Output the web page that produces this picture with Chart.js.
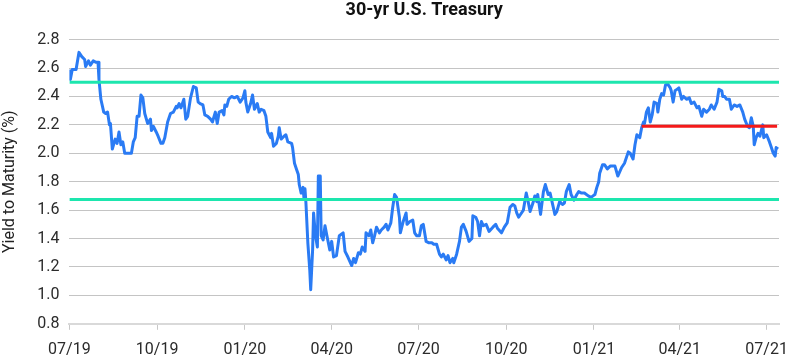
<!DOCTYPE html>
<html>
<head>
<meta charset="utf-8">
<script src="https://cdn.jsdelivr.net/npm/chart.js@4"></script>
<style>
  html, body { margin: 0; padding: 0; background: #fff; }
  #chartContainer { width: 792px; height: 360px; }
</style>
</head>
<body>
<div id="chartContainer"><canvas id="chart"></canvas></div>
<script>
// days counted from 07/01/2019
const dayOffsets = [
    0, 1, 3, 7, 10, 13, 16, 17, 20, 22, 25, 28, 30, 31, 33, 36, 38, 40, 42, 43,
    45, 48, 50, 52, 54, 56, 58, 61, 65, 67, 69, 71, 73, 75, 77, 79, 82, 85, 86, 88,
    91, 93, 96, 98, 100, 103, 106, 109, 112, 113, 115, 117, 120, 122, 124, 127, 130, 133, 135, 137,
    140, 142, 145, 148, 150, 153, 155, 157, 160, 162, 163, 165, 167, 170, 173, 176, 179, 182, 184, 185,
    187, 190, 192, 194, 197, 199, 201, 204, 206, 208, 211, 212, 214, 217, 219, 220, 222, 225, 227, 229,
    233, 234, 236, 238, 240, 241, 243, 245, 246, 247, 248, 250, 252, 253, 255, 256, 258, 260, 261, 263,
    264, 266, 268, 270, 273, 275, 277, 280, 283, 287, 289, 292, 296, 298, 300, 303, 305, 307, 310, 311,
    314, 316, 318, 320, 322, 325, 327, 330, 332, 334, 337, 339, 341, 343, 346, 347, 350, 353, 354, 357,
    360, 362, 364, 367, 369, 371, 374, 377, 380, 382, 385, 388, 390, 392, 395, 397, 399, 402, 403, 406,
    409, 411, 413, 416, 419, 422, 423, 426, 428, 430, 432, 434, 437, 440, 444, 447, 449, 453, 456, 459,
    462, 465, 467, 469, 471, 474, 476, 479, 481, 483, 486, 488, 490, 491, 494, 497, 499, 502, 504, 506,
    509, 511, 514, 517, 519, 521, 524, 526, 529, 532, 534, 537, 540, 544, 547, 549, 551, 553, 555, 556,
    559, 561, 564, 567, 568, 572, 575, 579, 582, 586, 588, 591, 593, 595, 598, 600, 602, 603, 605, 607,
    609, 611, 613, 616, 617, 619, 621, 623, 625, 627, 630, 631, 633, 635, 637, 639, 642, 644, 647, 650,
    652, 655, 658, 660, 663, 665, 668, 671, 673, 676, 679, 681, 684, 685, 687, 689, 692, 694, 697, 700,
    703, 706, 708, 711, 713, 715, 717, 718, 720, 722, 724, 727, 728, 731, 734, 736, 738, 740, 741, 743
];
const yields = [
    2.59, 2.52, 2.59, 2.59, 2.71, 2.68, 2.66, 2.61, 2.65, 2.62, 2.65, 2.64, 2.64, 2.52, 2.38, 2.29, 2.28, 2.29, 2.20, 2.21,
    2.03, 2.10, 2.07, 2.15, 2.06, 2.08, 2.00, 2.00, 2.00, 2.08, 2.11, 2.26, 2.26, 2.41, 2.39, 2.28, 2.21, 2.24, 2.16, 2.19,
    2.15, 2.12, 2.07, 2.07, 2.11, 2.22, 2.28, 2.29, 2.33, 2.32, 2.35, 2.32, 2.38, 2.24, 2.26, 2.39, 2.47, 2.46, 2.36, 2.35,
    2.34, 2.27, 2.26, 2.24, 2.22, 2.29, 2.21, 2.29, 2.30, 2.27, 2.34, 2.33, 2.38, 2.40, 2.39, 2.40, 2.36, 2.39, 2.44, 2.36,
    2.29, 2.35, 2.41, 2.31, 2.35, 2.29, 2.31, 2.30, 2.26, 2.15, 2.11, 2.14, 2.05, 2.07, 2.12, 2.18, 2.10, 2.12, 2.13, 2.08,
    2.07, 2.04, 1.93, 1.89, 1.85, 1.78, 1.72, 1.76, 1.68, 1.75, 1.65, 1.37, 1.18, 1.04, 1.32, 1.58, 1.42, 1.34, 1.84, 1.84,
    1.42, 1.39, 1.49, 1.42, 1.32, 1.38, 1.27, 1.28, 1.42, 1.44, 1.31, 1.27, 1.21, 1.26, 1.23, 1.30, 1.29, 1.34, 1.31, 1.44,
    1.42, 1.46, 1.37, 1.42, 1.48, 1.44, 1.46, 1.48, 1.50, 1.46, 1.51, 1.62, 1.71, 1.69, 1.55, 1.44, 1.52, 1.58, 1.50, 1.52,
    1.53, 1.44, 1.42, 1.42, 1.49, 1.50, 1.38, 1.37, 1.37, 1.36, 1.36, 1.29, 1.27, 1.29, 1.25, 1.28, 1.23, 1.26, 1.23, 1.29,
    1.38, 1.48, 1.50, 1.45, 1.38, 1.40, 1.56, 1.55, 1.52, 1.42, 1.52, 1.49, 1.50, 1.45, 1.48, 1.50, 1.47, 1.44, 1.48, 1.51,
    1.62, 1.64, 1.63, 1.58, 1.55, 1.58, 1.60, 1.72, 1.66, 1.59, 1.65, 1.70, 1.66, 1.71, 1.57, 1.73, 1.78, 1.71, 1.72, 1.66,
    1.57, 1.59, 1.66, 1.64, 1.65, 1.73, 1.78, 1.71, 1.67, 1.71, 1.73, 1.72, 1.72, 1.70, 1.69, 1.70, 1.71, 1.76, 1.80, 1.86,
    1.92, 1.92, 1.89, 1.91, 1.91, 1.91, 1.84, 1.90, 1.93, 2.01, 2.00, 1.96, 2.06, 2.13, 2.11, 2.18, 2.22, 2.21, 2.29, 2.32,
    2.22, 2.27, 2.36, 2.35, 2.29, 2.38, 2.42, 2.41, 2.48, 2.49, 2.46, 2.44, 2.36, 2.44, 2.45, 2.46, 2.38, 2.40, 2.38, 2.39,
    2.35, 2.36, 2.32, 2.33, 2.26, 2.31, 2.29, 2.31, 2.34, 2.31, 2.36, 2.45, 2.44, 2.40, 2.40, 2.38, 2.38, 2.31, 2.34, 2.33,
    2.34, 2.29, 2.24, 2.19, 2.18, 2.25, 2.19, 2.06, 2.11, 2.14, 2.12, 2.20, 2.11, 2.13, 2.08, 2.04, 2.00, 1.98, 2.04, 2.03
];

const tickDays = [0, 92, 184, 275, 366, 458, 550, 640, 731];
const tickLabels = ['07/19', '10/19', '01/20', '04/20', '07/20', '10/20', '01/21', '04/21', '07/21'];
const lastDay = 744;

const bandHigh = 2.50;
const bandLow = 1.675;
const redLevel = 2.19;
const redStart = 600;
const redEnd = 742;

const FONT = 'Roboto';

function buildChart() {
    const ctx = document.getElementById('chart').getContext('2d');
    const linePoints = dayOffsets.map(function(d, i) {
        return { x: d, y: yields[i] };
    });

    function flat(level, from, to) {
        return [{ x: from, y: level }, { x: to, y: level }];
    }

    new Chart(ctx, {
        type: 'line',
        data: {
            datasets: [
                {
                    data: flat(bandHigh, 0, lastDay),
                    borderColor: '#1de6ae',
                    borderWidth: 3,
                    order: 1
                },
                {
                    data: flat(bandLow, 0, lastDay),
                    borderColor: '#1de6ae',
                    borderWidth: 3,
                    order: 1
                },
                {
                    data: flat(redLevel, redStart, redEnd),
                    borderColor: '#f51a1a',
                    borderWidth: 3,
                    order: 1
                },
                {
                    label: '30-yr U.S. Treasury',
                    data: linePoints,
                    borderColor: '#2a7bf4',
                    borderWidth: 3,
                    borderJoinStyle: 'round',
                    order: 2
                }
            ]
        },
        options: {
            responsive: true,
            maintainAspectRatio: false,
            animation: false,
            elements: {
                point: { radius: 0 },
                line: { tension: 0 }
            },
            layout: {
                // tick padding is counted twice by the x scale, take the extra back
                padding: { left: 0, right: 0, top: 0, bottom: -11 }
            },
            plugins: {
                legend: { display: false },
                tooltip: { enabled: false },
                title: {
                    display: true,
                    text: '30-yr U.S. Treasury',
                    fullSize: false,
                    color: '#111',
                    font: { family: FONT, size: 18, weight: 'bold' },
                    padding: { top: 0, bottom: 18 }
                }
            },
            scales: {
                x: {
                    type: 'linear',
                    min: 0,
                    max: lastDay,
                    afterBuildTicks: function(scale) {
                        scale.ticks = tickDays.map(function(v) { return { value: v }; });
                    },
                    afterFit: function(scale) {
                        // let the last label hang past the plot edge like the original
                        scale.paddingRight = 13;
                        scale.paddingLeft = 0;
                    },
                    grid: {
                        drawOnChartArea: false,
                        drawTicks: true,
                        tickLength: 6,
                        color: '#c8c8c8'
                    },
                    border: { display: true, color: '#d9d9d9', width: 2 },
                    ticks: {
                        autoSkip: false,
                        maxRotation: 0,
                        padding: 11,
                        color: '#2b2b2b',
                        font: { family: FONT, size: 16 },
                        callback: function(value) {
                            const i = tickDays.indexOf(value);
                            return i >= 0 ? tickLabels[i] : '';
                        }
                    }
                },
                y: {
                    min: 0.8,
                    max: 2.8,
                    grid: {
                        drawTicks: false,
                        color: '#c4c4c4',
                        lineWidth: 1
                    },
                    border: { display: false },
                    ticks: {
                        stepSize: 0.2,
                        padding: 10,
                        color: '#2b2b2b',
                        font: { family: FONT, size: 16 },
                        callback: function(value) {
                            return Number(value).toFixed(1);
                        }
                    },
                    title: {
                        display: true,
                        text: 'Yield to Maturity (%)',
                        color: '#222',
                        font: { family: FONT, size: 16 },
                        padding: { top: 0, bottom: 8 }
                    }
                }
            }
        }
    });
}

buildChart();
</script>
</body>
</html>
